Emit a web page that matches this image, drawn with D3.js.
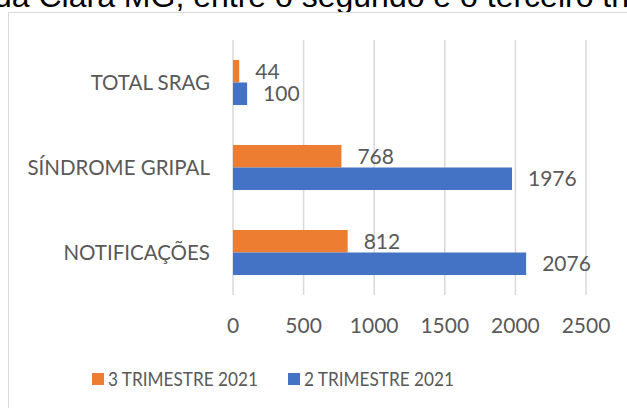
<!DOCTYPE html>
<html>
<head>
<meta charset="utf-8">
<script src="https://cdn.jsdelivr.net/npm/d3@7"></script>
<style>
  body { margin: 0; background: #fff; }
  svg { display: block; }
</style>
</head>
<body>
<div id="chart"></div>
<script>
var categories = ["TOTAL SRAG", "SÍNDROME GRIPAL", "NOTIFICAÇÕES"];
var tri3 = [44, 768, 812];
var tri2 = [100, 1976, 2076];
var xTicks = [0, 500, 1000, 1500, 2000, 2500];
var seriesNames = ["3 TRIMESTRE 2021", "2 TRIMESTRE 2021"];
var seriesColors = ["#ED7D31", "#4472C4"];

var WIDTH = 627, HEIGHT = 408;
var textColor = "#595959";
var font = "Lato, 'Open Sans', sans-serif";

var svg = d3.select("#chart").append("svg")
  .attr("width", WIDTH).attr("height", HEIGHT);

// caption line from the document, cut off at the top
svg.append("text")
  .attr("x", -6).attr("y", 7)
  .style("font-family", "'Liberation Sans', Arial, sans-serif")
  .style("font-size", "32px")
  .style("fill", "#000")
  .text("da Clara MG, entre o segundo e o terceiro trimestre");

// chart frame
svg.append("rect")
  .attr("x", 8.5).attr("y", 12.5)
  .attr("width", 640).attr("height", 420)
  .attr("fill", "#fff").attr("stroke", "#d9d9d9").attr("stroke-width", 1);

var xScale = d3.scaleLinear().domain([0, 2500]).range([233, 586]);
var yScale = d3.scaleBand().domain(categories).range([40, 295])
  .paddingInner(0.47).paddingOuter(0.235);

// gridlines
svg.append("g").selectAll("line").data(xTicks).enter().append("line")
  .attr("x1", function(d) { return xScale(d); })
  .attr("x2", function(d) { return xScale(d); })
  .attr("y1", 40).attr("y2", 295)
  .attr("stroke", "#d9d9d9").attr("stroke-width", 1.5);

// x tick labels
svg.append("g").selectAll("text").data(xTicks).enter().append("text")
  .attr("x", function(d) { return xScale(d); })
  .attr("y", 333)
  .attr("text-anchor", "middle")
  .style("font-family", font).style("font-size", "21px").style("fill", textColor)
  .text(function(d) { return d; });

// category labels
svg.append("g").selectAll("text").data(categories).enter().append("text")
  .attr("x", 210)
  .attr("y", function(d) { return yScale(d) + yScale.bandwidth() / 2 + 7.5; })
  .attr("text-anchor", "end")
  .style("font-family", font).style("font-size", "20.5px").style("fill", textColor)
  .text(function(d) { return d; });

var series = [tri3, tri2];
var barH = yScale.bandwidth() / 2;

series.forEach(function(vals, s) {
  var g = svg.append("g");
  g.selectAll("rect").data(vals).enter().append("rect")
    .attr("x", xScale(0))
    .attr("y", function(d, i) { return yScale(categories[i]) + s * barH; })
    .attr("width", function(d) { return xScale(d) - xScale(0); })
    .attr("height", barH)
    .attr("fill", seriesColors[s]);

  g.selectAll("text").data(vals).enter().append("text")
    .attr("x", function(d) { return xScale(d) + 16; })
    .attr("y", function(d, i) { return yScale(categories[i]) + s * barH + barH / 2 + 7.5; })
    .style("font-family", font).style("font-size", "21px").style("fill", textColor)
    .text(function(d) { return d; });
});

// legend
var legendX = [92, 288];
var legend = svg.append("g");
seriesNames.forEach(function(name, i) {
  legend.append("rect")
    .attr("x", legendX[i]).attr("y", 373)
    .attr("width", 12).attr("height", 12)
    .attr("fill", seriesColors[i]);
  legend.append("text")
    .attr("x", legendX[i] + 16).attr("y", 386)
    .attr("textLength", 150).attr("lengthAdjust", "spacingAndGlyphs")
    .style("font-family", font).style("font-size", "19px").style("fill", textColor)
    .text(name);
});
</script>
</body>
</html>
